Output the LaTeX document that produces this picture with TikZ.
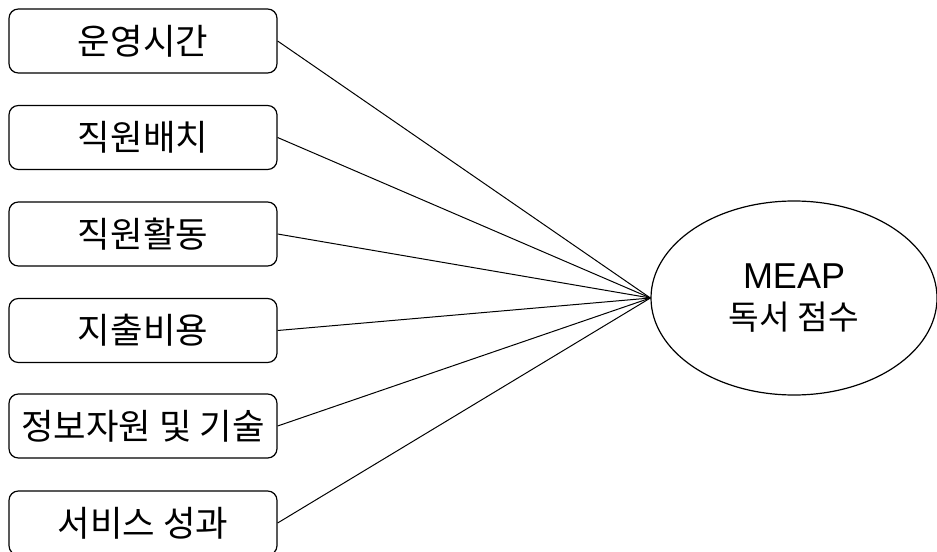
\documentclass[tikz,border=0pt]{standalone}
\usepackage{fontspec}
\setmainfont{Noto Sans CJK KR}
\newfontfamily\latinfont{Liberation Sans}
\usetikzlibrary{shapes.geometric}
\tikzset{
  factor/.style={draw, line width=0.9pt, rounded corners=7pt, minimum width=201pt, minimum height=48pt, inner sep=0pt, font=\fontsize{26.5}{30}\selectfont},
  target/.style={draw, line width=0.9pt, ellipse, minimum width=214.5pt, minimum height=145.5pt, inner sep=0pt, align=center, font=\fontsize{25}{31}\selectfont},
  link/.style={draw, line width=0.75pt}
}
\begin{document}
\begin{tikzpicture}[x=0.75pt,y=-0.75pt]
\useasboundingbox (0,0) rectangle (937,552);
\node[factor] (b1) at (143,41) {운영시간};
\node[factor] (b2) at (143,137.5) {직원배치};
\node[factor] (b3) at (143,234) {직원활동};
\node[factor] (b4) at (143,330.5) {지출비용};
\node[factor] (b5) at (143,426) {정보자원 및 기술};
\node[factor] (b6) at (143,523) {서비스 성과};
\node[target] (e) at (794,298) {{\latinfont\fontsize{27}{31}\selectfont MEAP}\\독서 점수};
\foreach \i in {1,...,6} { \draw[link] (b\i.east) -- (e.west); }
\end{tikzpicture}
\end{document}
